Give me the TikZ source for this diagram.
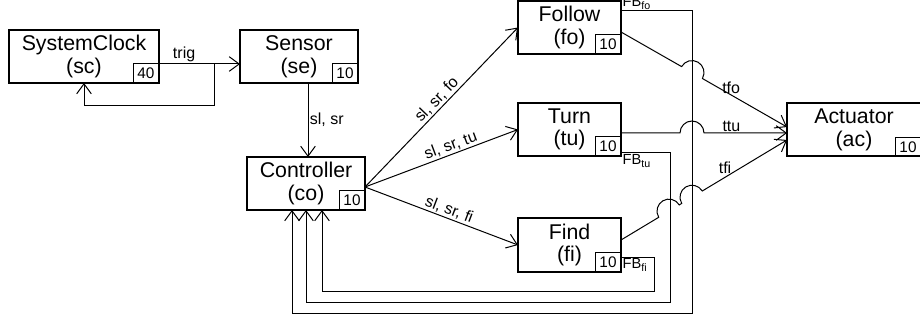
\documentclass[tikz,border=0pt]{standalone}
\usepackage{fontspec}
\setmainfont{Liberation Sans}
\usetikzlibrary{arrows.meta,calc}

\newcommand{\fbsub}[1]{\raisebox{-0.3ex}{\fontsize{8}{8}\selectfont #1}}

\tikzset{
	block/.style={draw, line width=1.5pt, outer sep=0pt, inner sep=0pt,
		minimum height=39.75pt, align=center, font=\fontsize{16}{17}\selectfont},
	rate/.style={draw, line width=0.75pt, outer sep=0pt, inner sep=0pt,
		minimum width=19.5pt, minimum height=14.25pt, anchor=south east,
		font=\fontsize{11.5}{12}\selectfont},
	wire/.style={line width=0.75pt},
	flow/.style={wire, -{Straight Barb[length=7.5pt,width=11pt]}},
	lbl/.style={font=\fontsize{12}{13}\selectfont, inner sep=1pt},
	fb/.style={font=\fontsize{11}{11}\selectfont, inner sep=1pt}
}

\begin{document}
\begin{tikzpicture}[x=0.75pt, y=0.75pt]
	\useasboundingbox (0,0) rectangle (920,-320);

	% Blocks
	\node[block, minimum width=112.5pt] (sc) at (84,-56.5) {SystemClock\\(sc)};
	\node[block, minimum width=88.5pt] (se) at (299,-56.5) {Sensor\\(se)};
	\node[block, minimum width=88.5pt] (co) at (306,-183.5) {Controller\\(co)};
	\node[block, minimum width=77.25pt] (fo) at (569.5,-27.5) {Follow\\(fo)};
	\node[block, minimum width=77.25pt] (tu) at (569.5,-129.5) {Turn\\(tu)};
	\node[block, minimum width=77.25pt] (fi) at (569.5,-245) {Find\\(fi)};
	\node[block, minimum width=100.5pt] (ac) at (854,-130) {Actuator\\(ac)};

	% Rates
	\node[rate] (sc-n) at (sc.south east) {40};
	\node[rate] (se-n) at (se.south east) {10};
	\node[rate] (co-n) at (co.south east) {10};
	\node[rate] (fo-n) at (fo.south east) {10};
	\node[rate] (tu-n) at (tu.south east) {10};
	\node[rate] (fi-n) at (fi.south east) {10};
	\node[rate] (ac-n) at (ac.south east) {10};

	% Trigger and its loop back
	\coordinate (tap) at ($(sc-n.north east)!0.69!(sc-n.north east -| se.west)$);
	\draw[flow] (sc-n.north east) -- (sc-n.north east -| se.west)
		node[lbl, pos=0.31, above] {trig};
	\draw[flow] (tap) -- ++(0,-42) -| (sc.south);

	% Sensor values
	\draw[flow] ($(se.south)+(9,0)$) -- ($(co.north)+(2,0)$)
		node[lbl, midway, right] {sl, sr};

	% Controller fan-out
	\coordinate (co-out) at ($(co.east)+(0,-3.5)$);
	\draw[flow] (co-out) -- (fo.west) node[lbl, pos=0.51, sloped, above] {sl, sr, fo};
	\draw[flow] (co-out) -- (tu.west) node[lbl, pos=0.58, sloped, above] {sl, sr, tu};
	\draw[flow] (co-out) -- (fi.west) node[lbl, pos=0.53, sloped, above] {sl, sr, fi};

	% Outputs to the actuator, hopping over the feedback wires
	\draw[flow] ($(fo.east)+(0,-4.5)$) -- (681.6,-66.6)
		arc[start angle=150.2, end angle=-29.8, radius=12]
		-- ($(ac.west)+(0,3)$) node[lbl, pos=0.34, above] {tfo};
	\draw[flow] ($(tu.east)+(0,-3.5)$) -- (680,-133)
		arc[start angle=180, end angle=0, radius=12]
		-- ($(ac.west)+(0,-3)$) node[lbl, pos=0.33, above] {ttu};
	\draw[flow] ($(fi.east)+(0,5)$) -- (658.7,-217.3)
		arc[start angle=211.07, end angle=31.07, radius=12] -- (681.7,-203.4)
		arc[start angle=211.07, end angle=31.07, radius=12]
		-- ($(ac.west)+(0,-10)$) node[lbl, pos=0.3, above, xshift=-2] {tfi};

	% Feedback to the controller
	\coordinate (fo-fb) at ($(fo.east)+(0,16.5)$);
	\coordinate (tu-fb) at ($(tu.east)+(0,-23.5)$);
	\coordinate (fi-fb) at ($(fi.east)+(0,-12)$);
	\draw[flow] (fo-fb) -| (692,-313) -| ($(co.south)+(-14,0)$);
	\draw[flow] (tu-fb) -| (670,-302) -| (co.south);
	\draw[flow] (fi-fb) -| (654,-291) -| ($(co.south)+(16,0)$);
	\node[fb, anchor=south west] (fo-fb-l) at (fo-fb) {FB\fbsub{fo}};
	\node[fb, anchor=north west] (tu-fb-l) at (tu-fb) {FB\fbsub{tu}};
	\node[fb, anchor=north west] (fi-fb-l) at (fi-fb) {FB\fbsub{fi}};
\end{tikzpicture}
\end{document}
